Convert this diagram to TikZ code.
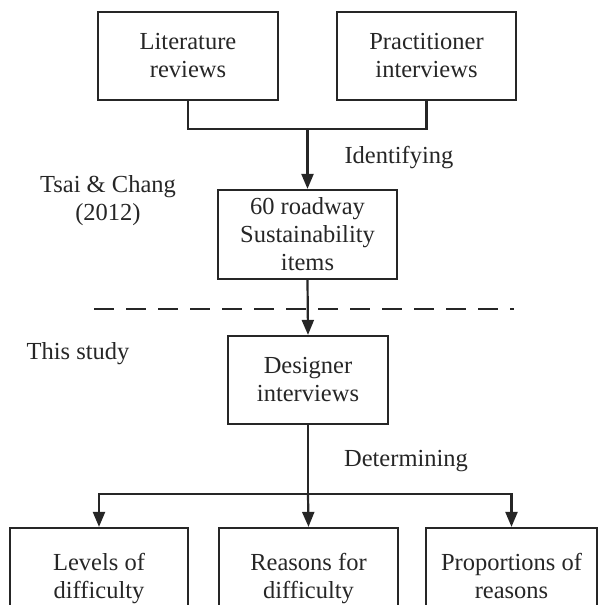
\documentclass[tikz,border=0pt]{standalone}
\usepackage{fontspec}
\setmainfont{Liberation Serif}
\usetikzlibrary{arrows.meta}
\begin{document}
\begin{tikzpicture}[x=1pt,y=-1pt,
  every node/.style={font=\fontsize{24.5}{28}\selectfont, text=black!85},
  box/.style={draw=black!85, line width=2.2pt, align=center, inner sep=0pt},
  lbl/.style={align=center, inner sep=0pt},
  conn/.style={draw=black!85, line width=2.2pt},
  arr/.style={conn, -{Triangle[length=15pt,width=12pt]}}]
\useasboundingbox (0,0) rectangle (598,605);
\clip (0,0) rectangle (598,605);
\node[box, minimum width=180pt, minimum height=88pt] (lit) at (188,56) {Literature\\reviews};
\node[box, minimum width=179pt, minimum height=88pt] (prac) at (426.5,56) {Practitioner\\interviews};
\node[box, minimum width=179pt, minimum height=89pt] (road) at (307.5,234.5) {60 roadway\\Sustainability\\items};
\node[box, minimum width=160pt, minimum height=88pt] (des) at (308,380) {Designer\\interviews};
\node[box, minimum width=178pt, minimum height=102pt] (lev) at (99,579) {\strut Levels of\\difficulty\strut};
\node[box, minimum width=179pt, minimum height=102pt] (rea) at (308.5,579) {\strut Reasons for\\difficulty\strut};
\node[box, minimum width=171pt, minimum height=102pt] (pro) at (511.5,579) {\strut Proportions of\\reasons\strut};
\node[lbl] (ident) at (399,158) {Identifying};
\node[lbl] (tsai) at (108,201) {Tsai \& Chang\\(2012)};
\node[lbl] (this) at (78,354) {This study};
\node[lbl] (det) at (406,461) {Determining};
\coordinate (j1) at (307.5,129);
\coordinate (j2) at (308,494);
\coordinate (d1) at (94,309);
\coordinate (d2) at (514,309);
\draw[conn] (lit.south) |- (j1) -| (prac.south);
\draw[arr] (j1) -- (road.north);
\draw[arr] (road.south) -- (des.north);
\draw[conn] (des.south) -- (j2);
\draw[arr] (j2) -| (lev.north);
\draw[arr] (j2) -- (rea.north);
\draw[arr] (j2) -| (pro.north);
\draw[conn, line width=2pt, dash pattern=on 20pt off 12pt] (d1) -- (d2);
\end{tikzpicture}
\end{document}
